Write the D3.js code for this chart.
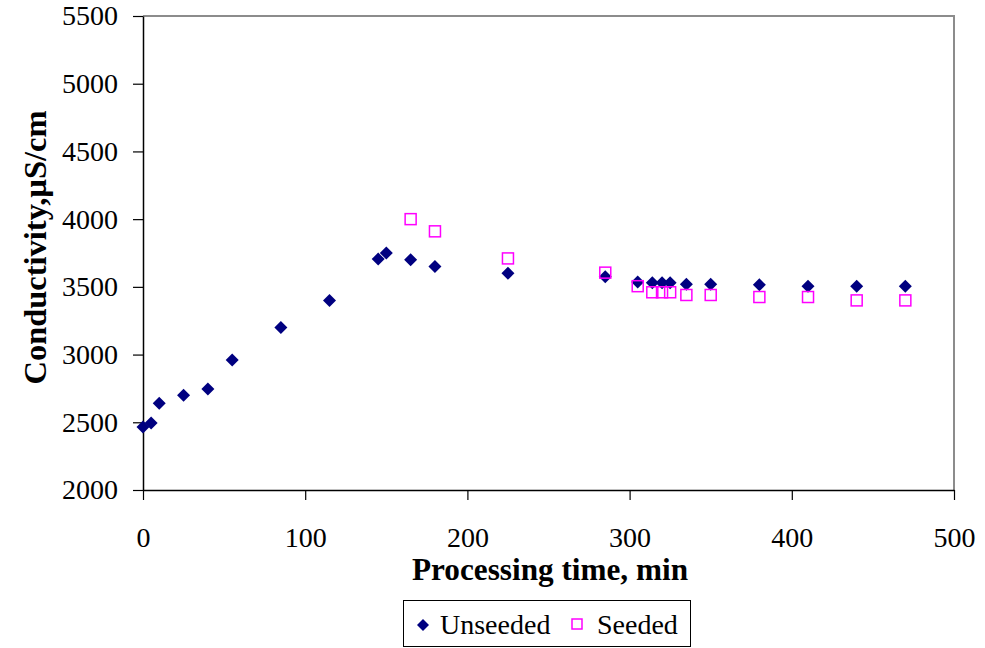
<!DOCTYPE html>
<html>
<head>
<meta charset="utf-8">
<script src="https://cdn.jsdelivr.net/npm/d3@7"></script>
<style>
  html, body { margin: 0; padding: 0; background: #fff; }
  svg { display: block; }
  text { font-family: "Liberation Serif", "Times New Roman", serif; fill: #000; }
</style>
</head>
<body>
<svg id="chart" width="985" height="648"></svg>
<script>
// Processing time (min) and conductivity (µS/cm) for each run
const unseededTime = [0, 5, 10, 25, 40, 55, 85, 115, 145, 150, 165, 180, 225, 285, 305, 314, 320, 325, 335, 350, 380, 410, 440, 470];
const unseededCond = [2465, 2495, 2640, 2700, 2745, 2960, 3200, 3400, 3705, 3750, 3700, 3650, 3600, 3575, 3535, 3530, 3530, 3530, 3520, 3520, 3515, 3505, 3505, 3505];
const seededTime = [165, 180, 225, 285, 305, 314, 320, 325, 335, 350, 380, 410, 440, 470];
const seededCond = [4000, 3910, 3710, 3605, 3505, 3460, 3460, 3460, 3440, 3440, 3425, 3425, 3400, 3400];
const xTicks = [0, 100, 200, 300, 400, 500];
const yTicks = [2000, 2500, 3000, 3500, 4000, 4500, 5000, 5500];
const seriesNames = ["Unseeded", "Seeded"];

const svg = d3.select("#chart");
const plotL = 143, plotR = 954, plotT = 16, plotB = 490;

const x = d3.scaleLinear().domain([0, 500]).range([plotL, plotR]);
const y = d3.scaleLinear().domain([2000, 5500]).range([plotB, plotT]);

// plot frame (top and right edges)
svg.append("path")
  .attr("d", `M${plotL},${plotT}H${plotR}V${plotB}`)
  .attr("fill", "none").attr("stroke", "#8c8c8c").attr("stroke-width", 2);

// x axis
const xAxis = svg.append("g").attr("transform", `translate(0,${plotB})`)
  .call(d3.axisBottom(x).tickValues(xTicks).tickFormat(d3.format("d"))
    .tickSize(10).tickPadding(27).tickSizeOuter(0));
// y axis
const yAxis = svg.append("g").attr("transform", `translate(${plotL},0)`)
  .call(d3.axisLeft(y).tickValues(yTicks).tickFormat(d3.format("d"))
    .tickSize(10).tickPadding(15).tickSizeOuter(0));

[xAxis, yAxis].forEach(g => {
  g.attr("font-family", null);
  g.select(".domain").attr("stroke", "#000").attr("stroke-width", 1.5);
  g.selectAll(".tick line").attr("stroke", "#000").attr("stroke-width", 1.2);
  g.selectAll(".tick text").attr("font-size", 28).attr("fill", "#000");
});

// axis titles
svg.append("text")
  .attr("x", 412).attr("y", 580)
  .attr("font-size", 32).attr("font-weight", "bold")
  .attr("textLength", 276).attr("lengthAdjust", "spacingAndGlyphs")
  .text("Processing time, min");

svg.append("text")
  .attr("transform", `translate(46,${(110 + 385) / 2}) rotate(-90)`)
  .attr("text-anchor", "middle")
  .attr("font-size", 32).attr("font-weight", "bold")
  .attr("textLength", 274).attr("lengthAdjust", "spacingAndGlyphs")
  .text("Conductivity,µS/cm");

// markers
const diamond = s => `M0,${-s}L${s},0L0,${s}L${-s},0Z`;

const unseeded = unseededTime.map((t, i) => ({ t, c: unseededCond[i] }));
const seeded = seededTime.map((t, i) => ({ t, c: seededCond[i] }));

svg.append("g").selectAll("path").data(unseeded).join("path")
  .attr("transform", d => `translate(${x(d.t)},${y(d.c)})`)
  .attr("d", diamond(6.5))
  .attr("fill", "#000080");

svg.append("g").selectAll("rect").data(seeded).join("rect")
  .attr("x", d => x(d.t) - 5.5).attr("y", d => y(d.c) - 5.5)
  .attr("width", 11).attr("height", 11)
  .attr("fill", "none").attr("stroke", "#ff00ff").attr("stroke-width", 1.5);

// legend
const lg = svg.append("g");
lg.append("rect").attr("x", 403.5).attr("y", 600.5).attr("width", 287).attr("height", 46)
  .attr("fill", "#fff").attr("stroke", "#000").attr("stroke-width", 1);
lg.append("path").attr("transform", "translate(423,625)").attr("d", diamond(6)).attr("fill", "#000080");
lg.append("text").attr("x", 440).attr("y", 634).attr("font-size", 28).text(seriesNames[0]);
lg.append("rect").attr("x", 572).attr("y", 619).attr("width", 10).attr("height", 10)
  .attr("fill", "none").attr("stroke", "#ff00ff").attr("stroke-width", 1.5);
lg.append("text").attr("x", 597).attr("y", 634).attr("font-size", 28).text(seriesNames[1]);
</script>
</body>
</html>
